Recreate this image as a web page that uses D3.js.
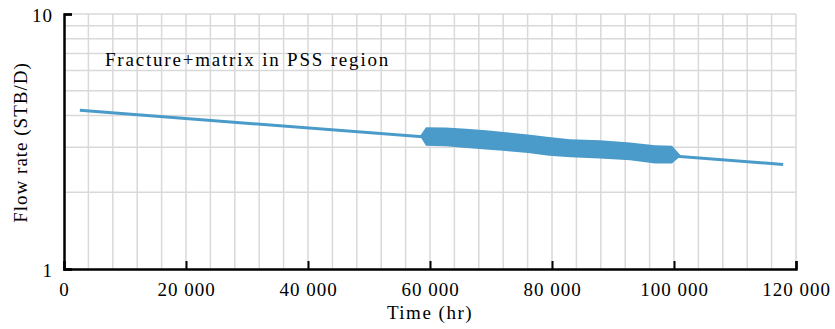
<!DOCTYPE html>
<html>
<head>
<meta charset="utf-8">
<script src="https://cdn.jsdelivr.net/npm/d3@7"></script>
<style>
	body { margin: 0; background: #fff; }
	svg { display: block; font-family: "Liberation Serif", "DejaVu Serif", serif; }
</style>
</head>
<body>
<svg id="chart" width="835" height="329"></svg>
<script>
	// main decline line
	var lineTime = [2600, 117900];
	var lineRate = [4.19, 2.57];

	// thick oscillating band, read edge by edge
	var bandTime  = [58360, 59340, 62620, 65900, 69180, 72460, 76070, 79510, 82950, 87870, 92790, 96890, 99670, 101150];
	var bandUpper = [3.32, 3.60, 3.585, 3.55, 3.50, 3.44, 3.365, 3.29, 3.23, 3.20, 3.135, 3.06, 3.045, 2.78];
	var bandLower = [3.32, 3.045, 3.03, 2.98, 2.94, 2.90, 2.85, 2.78, 2.74, 2.71, 2.67, 2.59, 2.59, 2.78];

	var xTicks = [0, 20000, 40000, 60000, 80000, 100000, 120000];
	var xGrid = d3.range(4000, 120001, 4000);
	var yTicks = [1, 10];
	var yGrid = [2, 3, 4, 5, 6, 7, 8, 9, 10];

	var color = '#4a9bc9';
	var fmt = d3.formatLocale({ decimal: '.', thousands: ' ', grouping: [3], currency: ['', ''] }).format(',d');

	var svg = d3.select('#chart');
	var margin = { top: 14, right: 39, bottom: 60, left: 64 };
	var width = 835 - margin.left - margin.right;
	var height = 329 - margin.top - margin.bottom;

	var g = svg.append('g')
		.attr('transform', 'translate(' + margin.left + ',' + margin.top + ')');

	var x = d3.scaleLinear().domain([0, 120000]).range([0, width]);
	var y = d3.scaleLog().domain([1, 10]).range([height, 0]);

	// grid
	g.append('g').selectAll('line')
		.data(xGrid)
		.enter().append('line')
		.attr('x1', function(d) { return x(d); })
		.attr('x2', function(d) { return x(d); })
		.attr('y1', 0)
		.attr('y2', height)
		.attr('stroke', '#d9d9d9')
		.attr('stroke-width', 1.5);

	g.append('g').selectAll('line')
		.data(yGrid)
		.enter().append('line')
		.attr('x1', 0)
		.attr('x2', width)
		.attr('y1', function(d) { return y(d); })
		.attr('y2', function(d) { return y(d); })
		.attr('stroke', '#d9d9d9')
		.attr('stroke-width', 1.5);

	// band
	var bandData = bandTime.map(function(t, i) {
		return { t: t, hi: bandUpper[i], lo: bandLower[i] };
	});
	g.append('path')
		.datum(bandData)
		.attr('fill', color)
		.attr('d', d3.area()
			.x(function(d) { return x(d.t); })
			.y0(function(d) { return y(d.lo); })
			.y1(function(d) { return y(d.hi); })
		);

	// line
	g.append('path')
		.datum(lineTime.map(function(t, i) { return { t: t, r: lineRate[i] }; }))
		.attr('fill', 'none')
		.attr('stroke', color)
		.attr('stroke-width', 3)
		.attr('d', d3.line()
			.x(function(d) { return x(d.t); })
			.y(function(d) { return y(d.r); })
		);

	// axes
	var xAxis = g.append('g')
		.attr('transform', 'translate(0,' + height + ')')
		.call(d3.axisBottom(x).tickValues(xTicks).tickSize(-8).tickPadding(14).tickFormat(fmt));
	xAxis.select('.domain').attr('stroke', '#000').attr('stroke-width', 2.5);
	xAxis.selectAll('.tick line').attr('stroke', '#000').attr('stroke-width', 2);
	xAxis.selectAll('text')
		.attr('font-size', 19)
		.attr('letter-spacing', 1)
		.attr('fill', '#000')
		.attr('font-family', 'Liberation Serif');

	var yAxis = g.append('g')
		.call(d3.axisLeft(y).tickValues(yTicks).tickSize(-8).tickPadding(11).tickFormat(d3.format('d')));
	yAxis.select('.domain').attr('stroke', '#000').attr('stroke-width', 2.5);
	yAxis.selectAll('.tick line').attr('stroke', '#000').attr('stroke-width', 2);
	yAxis.selectAll('text')
		.attr('font-size', 19)
		.attr('letter-spacing', 1)
		.attr('fill', '#000')
		.attr('dy', '0.4em')
		.attr('font-family', 'Liberation Serif');

	// titles
	svg.append('text')
		.attr('x', margin.left + width / 2)
		.attr('y', 319)
		.attr('text-anchor', 'middle')
		.attr('font-size', 19)
		.attr('letter-spacing', 1.5)
		.text('Time (hr)');

	svg.append('text')
		.attr('transform', 'translate(27,' + (margin.top + height / 2 + 1) + ') rotate(-90)')
		.attr('text-anchor', 'middle')
		.attr('font-size', 19)
		.attr('letter-spacing', 1)
		.text('Flow rate (STB/D)');

	svg.append('text')
		.attr('x', 105)
		.attr('y', 66)
		.attr('font-size', 19)
		.attr('letter-spacing', 1.8)
		.text('Fracture+matrix in PSS region');
</script>
</body>
</html>
